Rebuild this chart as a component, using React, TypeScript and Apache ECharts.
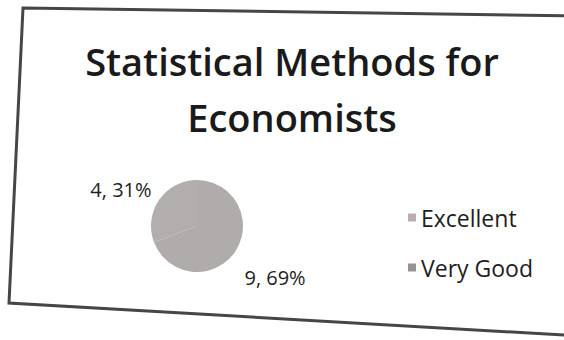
import React, { useEffect, useRef } from "react";
import * as echarts from "echarts";

const categories = ["Excellent", "Very Good"];
const counts = [4, 9];
const percents = ["31%", "69%"];
const sliceColors = ["#b3aeae", "#b1acac"];
const legendColors = ["#bcaeae", "#979191"];
const titleText = "Statistical Methods for\nEconomists";

export default function App() {
  const ref = useRef<HTMLDivElement>(null);
  useEffect(() => {
    document.body.style.margin = "0";
    const chart = echarts.init(ref.current!, null, { renderer: "svg" });
    const data = categories.map((c, i) => ({
      name: c,
      value: counts[i],
      pct: percents[i],
      itemStyle: { color: sliceColors[i] },
    }));
    chart.setOption({
      animation: false,
      backgroundColor: "#ffffff",
      title: {
        text: titleText,
        left: 287,
        textAlign: "center",
        top: 28,
        textStyle: {
          fontFamily: "Open Sans",
          fontSize: 38,
          fontWeight: 600,
          color: "#1a1a1a",
          lineHeight: 56,
        },
      },
      legend: {
        orient: "vertical",
        left: 403,
        top: 199,
        itemWidth: 8,
        itemHeight: 8,
        itemGap: 23,
        icon: "rect",
        textStyle: {
          fontFamily: "Open Sans",
          fontSize: 23,
          color: "#1e1e1e",
          lineHeight: 27,
        },
        data: categories.map((c, i) => ({
          name: c,
          itemStyle: { color: legendColors[i] },
        })),
      },
      graphic: [
        {
          type: "polygon",
          shape: { points: [[23, 8], [580, 16], [580, 336], [9, 303]] },
          style: { fill: "none", stroke: "#4a4545", lineWidth: 3 },
          silent: true,
        },
      ],
      series: [
        {
          type: "pie",
          center: [197, 226],
          radius: 46,
          clockwise: false,
          startAngle: 90,
          data,
          itemStyle: { borderWidth: 0 },
          label: {
            show: true,
            position: "outside",
            formatter: (p: any) => `${p.value}, ${p.data.pct}`,
            fontFamily: "Open Sans",
            fontSize: 20,
            color: "#1e1e1e",
          },
          labelLine: { show: false, length: 8, length2: 4 },
          labelLayout: (p: any) =>
            p.dataIndex === 0 ? { dx: 8, dy: -6 } : { dx: -6, dy: 21 },
          emphasis: { disabled: true },
        },
      ],
    });
    return () => chart.dispose();
  }, []);
  return (
    <div
      ref={ref}
      style={{ position: "fixed", left: 0, top: 0, width: 564, height: 340 }}
    />
  );
}
